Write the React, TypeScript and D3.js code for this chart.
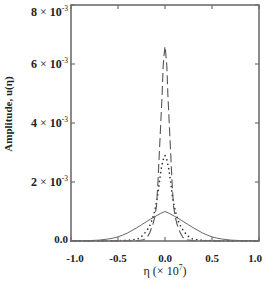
import React from "react";
import * as d3 from "d3";

const etaSolid = [-1.0, -0.9, -0.8, -0.7, -0.6, -0.55, -0.5, -0.45, -0.4, -0.35, -0.3, -0.25, -0.2, -0.15, -0.1, -0.05, 0, 0.05, 0.1, 0.15, 0.2, 0.25, 0.3, 0.35, 0.4, 0.45, 0.5, 0.55, 0.6, 0.7, 0.8, 0.9, 1.0];
const ampSolid = [0.004, 0.008, 0.015, 0.03, 0.07, 0.1, 0.14, 0.2, 0.27, 0.36, 0.45, 0.55, 0.65, 0.75, 0.84, 0.93, 1.0, 0.93, 0.84, 0.75, 0.65, 0.55, 0.45, 0.36, 0.27, 0.2, 0.14, 0.1, 0.07, 0.03, 0.015, 0.008, 0.004];

const etaDashed = [-1.0, -0.6, -0.3, -0.23, -0.19, -0.16, -0.13, -0.11, -0.09, -0.075, -0.06, -0.045, -0.03, -0.02, -0.01, 0, 0.01, 0.02, 0.03, 0.045, 0.06, 0.075, 0.09, 0.11, 0.13, 0.16, 0.19, 0.23, 0.3, 0.6, 1.0];
const ampDashed = [0.0, 0.003, 0.01, 0.04, 0.12, 0.3, 0.55, 0.8, 1.2, 2.0, 3.0, 4.0, 5.0, 5.9, 6.3, 6.6, 6.3, 5.9, 5.0, 4.0, 3.0, 2.0, 1.2, 0.8, 0.55, 0.3, 0.12, 0.04, 0.01, 0.003, 0.0];

const etaDotted = [-1.0, -0.6, -0.4, -0.3, -0.26, -0.22, -0.18, -0.15, -0.12, -0.1, -0.08, -0.06, -0.04, -0.02, 0, 0.02, 0.04, 0.06, 0.08, 0.1, 0.12, 0.15, 0.18, 0.22, 0.26, 0.3, 0.4, 0.6, 1.0];
const ampDotted = [0.0, 0.005, 0.02, 0.06, 0.12, 0.25, 0.42, 0.6, 0.9, 1.15, 1.5, 2.0, 2.45, 2.75, 2.9, 2.75, 2.45, 2.0, 1.5, 1.15, 0.9, 0.6, 0.42, 0.25, 0.12, 0.06, 0.02, 0.005, 0.0];

const xTicks = [-1.0, -0.5, 0.0, 0.5, 1.0];
const xTickLabels = ["-1.0", "-0.5", "0.0", "0.5", "1.0"];
const yTicks = [0, 2, 4, 6, 8];

const FONT = "'Liberation Serif', 'DejaVu Serif', serif";

export default function App() {
  const W = 265, H = 281;
  const left = 71, right = 259, top = 5, bottom = 241;
  const x = d3.scaleLinear().domain([-1, 1]).range([left, right]);
  const y = d3.scaleLinear().domain([0, 8]).range([bottom, top]);

  const mk = (xs: number[], ys: number[]) =>
    d3.line<number>().x((_, i) => x(xs[i])).y((_, i) => y(ys[i]))(xs.map((v) => v)) || "";

  const axisColor = "#6e6e6e";
  const tickLen = 4;

  return (
    <svg width={W} height={H} style={{ position: "absolute", left: 0, top: 0, background: "#fff" }}>
      {/* curves */}
      <path d={mk(etaSolid, ampSolid)} fill="none" stroke="#666" strokeWidth={1} />
      <path d={mk(etaDotted, ampDotted)} fill="none" stroke="#333" strokeWidth={1.7} strokeDasharray="0,4.5" strokeLinecap="round" />
      <path d={mk(etaDashed, ampDashed)} fill="none" stroke="#555" strokeWidth={1.1} strokeDasharray="9,4" />

      {/* frame */}
      <rect x={left} y={top} width={right - left} height={bottom - top} fill="none" stroke={axisColor} strokeWidth={1.6} />

      {/* x ticks */}
      {xTicks.map((t, i) => (
        <g key={"xt" + i}>
          <line x1={x(t)} x2={x(t)} y1={bottom} y2={bottom - tickLen} stroke={axisColor} strokeWidth={1.2} />
          <line x1={x(t)} x2={x(t)} y1={top} y2={top + tickLen} stroke={axisColor} strokeWidth={1.2} />
          <text
            x={x(t) + (i === 0 ? 4 : i === xTicks.length - 1 ? -4 : 0)}
            y={262}
            textAnchor="middle"
            fontFamily={FONT}
            fontWeight="bold"
            fontSize={11}
            fill="#222"
          >
            {xTickLabels[i]}
          </text>
        </g>
      ))}

      {/* y ticks */}
      {yTicks.map((t, i) => (
        <g key={"yt" + i}>
          <line x1={left} x2={left + tickLen} y1={y(t)} y2={y(t)} stroke={axisColor} strokeWidth={1.2} />
          <line x1={right} x2={right - tickLen} y1={y(t)} y2={y(t)} stroke={axisColor} strokeWidth={1.2} />
          {t === 0 ? (
            <text x={68} y={y(t) + 2} textAnchor="end" fontFamily={FONT} fontWeight="bold" fontSize={11} fill="#222">
              0.0
            </text>
          ) : (
            <text x={68} y={y(t) + (t === 8 ? 11 : 4)} textAnchor="end" fontFamily={FONT} fontSize={12} fill="#222">
              <tspan fontWeight="bold">{t}</tspan>
              <tspan> × </tspan>
              <tspan fontWeight="bold">10</tspan>
              <tspan fontSize={7.5} dy={-5}>-3</tspan>
            </text>
          )}
        </g>
      ))}

      {/* axis titles */}
      <text x={165} y={275} textAnchor="middle" fontFamily={FONT} fontSize={12} fill="#222">
        η (× 10<tspan fontSize={7.5} dy={-5}>7</tspan>
        <tspan dy={5}>)</tspan>
      </text>
      <text
        transform="translate(11.5,114) rotate(-90)"
        textAnchor="middle"
        fontFamily={FONT}
        fontWeight="bold"
        fontSize={11}
        fill="#222"
      >
        Amplitude, u(η)
      </text>
    </svg>
  );
}
